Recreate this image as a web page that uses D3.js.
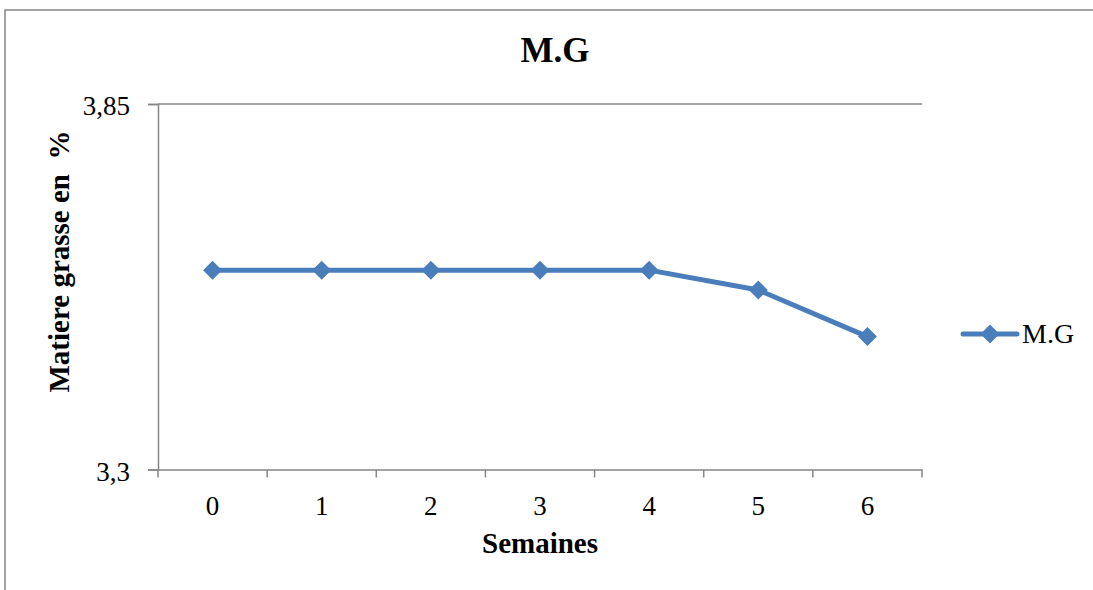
<!DOCTYPE html>
<html><head><meta charset="utf-8">
<script src="https://cdn.jsdelivr.net/npm/d3@7"></script>
<style>body{margin:0;background:#fff}svg{display:block}</style>
</head><body>
<script>
const categories = ["0","1","2","3","4","5","6"];
const values = [3.6, 3.6, 3.6, 3.6, 3.6, 3.57, 3.5];
const yTicks = [3.3, 3.85];
const yTickLabels = ["3,3", "3,85"];
const seriesName = "M.G";
const chartTitle = "M.G";
const xTitle = "Semaines";
const yTitle = "Matiere grasse en  %";

const FONT = "'Liberation Serif', 'Times New Roman', Times, serif";
const W = 1093, H = 590;
const svg = d3.select("body").append("svg").attr("width", W).attr("height", H)
  .style("font-family", FONT);
const color = "#4a7ebb";
const axisColor = "#868686";

// outer frame
svg.append("path").attr("d", `M5,${H} L5,10 L${W},10`).attr("fill","none").attr("stroke",axisColor).attr("stroke-width",1.5);

const L = 158, R = 922, T = 104, B = 469.5;
const x = d3.scaleBand().domain(categories).range([L, R]);
const y = d3.scaleLinear().domain([3.3, 3.85]).range([B, T]);

// gridline at top
svg.append("line").attr("x1", L).attr("x2", R).attr("y1", y(3.85)).attr("y2", y(3.85)).attr("stroke", axisColor).attr("stroke-width", 1.5);

// y axis
const yAxis = svg.append("g").attr("transform", `translate(${L},0)`)
  .call(d3.axisLeft(y).tickValues(yTicks).tickFormat((d,i)=>yTickLabels[i]).tickSize(10).tickPadding(18));
yAxis.attr("font-family", null).attr("font-size", null);
yAxis.select(".domain").attr("stroke", axisColor).attr("stroke-width",1.5);
yAxis.selectAll(".tick line").attr("stroke", axisColor).attr("stroke-width",1.5);
yAxis.selectAll("text").style("font-size", "27px").style("font-family", FONT).attr("fill","#000").attr("dy","0.4em");

// x axis
const xAxis = svg.append("g").attr("transform", `translate(0,${B})`)
  .call(d3.axisBottom(x).tickSize(0).tickPadding(0));
xAxis.attr("font-family", null).attr("font-size", null);
xAxis.select(".domain").attr("stroke", axisColor).attr("stroke-width",1.5);
xAxis.selectAll("text").style("font-size", "27px").style("font-family", FONT).attr("fill","#000").attr("y", 45.5).attr("dy", null);
const bounds = categories.map(c => x(c)).concat([R]);
xAxis.selectAll(".bt").data(bounds).enter().append("line")
  .attr("x1", d=>d).attr("x2", d=>d).attr("y1", 0).attr("y2", 8)
  .attr("stroke", axisColor).attr("stroke-width",1.5);

// line
const cx = d => x(d) + x.bandwidth()/2;
const line = d3.line().x((d,i)=>cx(categories[i])).y(d=>y(d));
svg.append("path").datum(values).attr("d", line).attr("fill","none").attr("stroke", color).attr("stroke-width", 5).attr("stroke-linejoin","round");
const diamond = d3.symbol().type(d3.symbolDiamond2).size(230);
svg.selectAll(".pt").data(values).enter().append("path")
  .attr("d", diamond).attr("transform", (d,i)=>`translate(${cx(categories[i])},${y(d)})`)
  .attr("fill", color);

// title
svg.append("text").attr("x", 555).attr("y", 62).attr("text-anchor","middle").style("font-size","35px").attr("font-weight","bold").text(chartTitle);
// x title
svg.append("text").attr("x", 540).attr("y", 553).attr("text-anchor","middle").style("font-size","29px").attr("font-weight","bold").text(xTitle);
// y title
svg.append("text").attr("transform","translate(69,261.5) rotate(-90)").attr("text-anchor","middle").style("font-size","29px").attr("font-weight","bold").style("white-space","pre").text(yTitle);

// legend
const lg = svg.append("g");
lg.append("line").attr("x1",963).attr("x2",1017).attr("y1",334).attr("y2",334).attr("stroke",color).attr("stroke-width",5).attr("stroke-linecap","round");
lg.append("path").attr("d", diamond).attr("transform","translate(990,334)").attr("fill",color);
lg.append("text").attr("x",1022).attr("y",343).style("font-size","28px").text(seriesName);
</script>
</body></html>
